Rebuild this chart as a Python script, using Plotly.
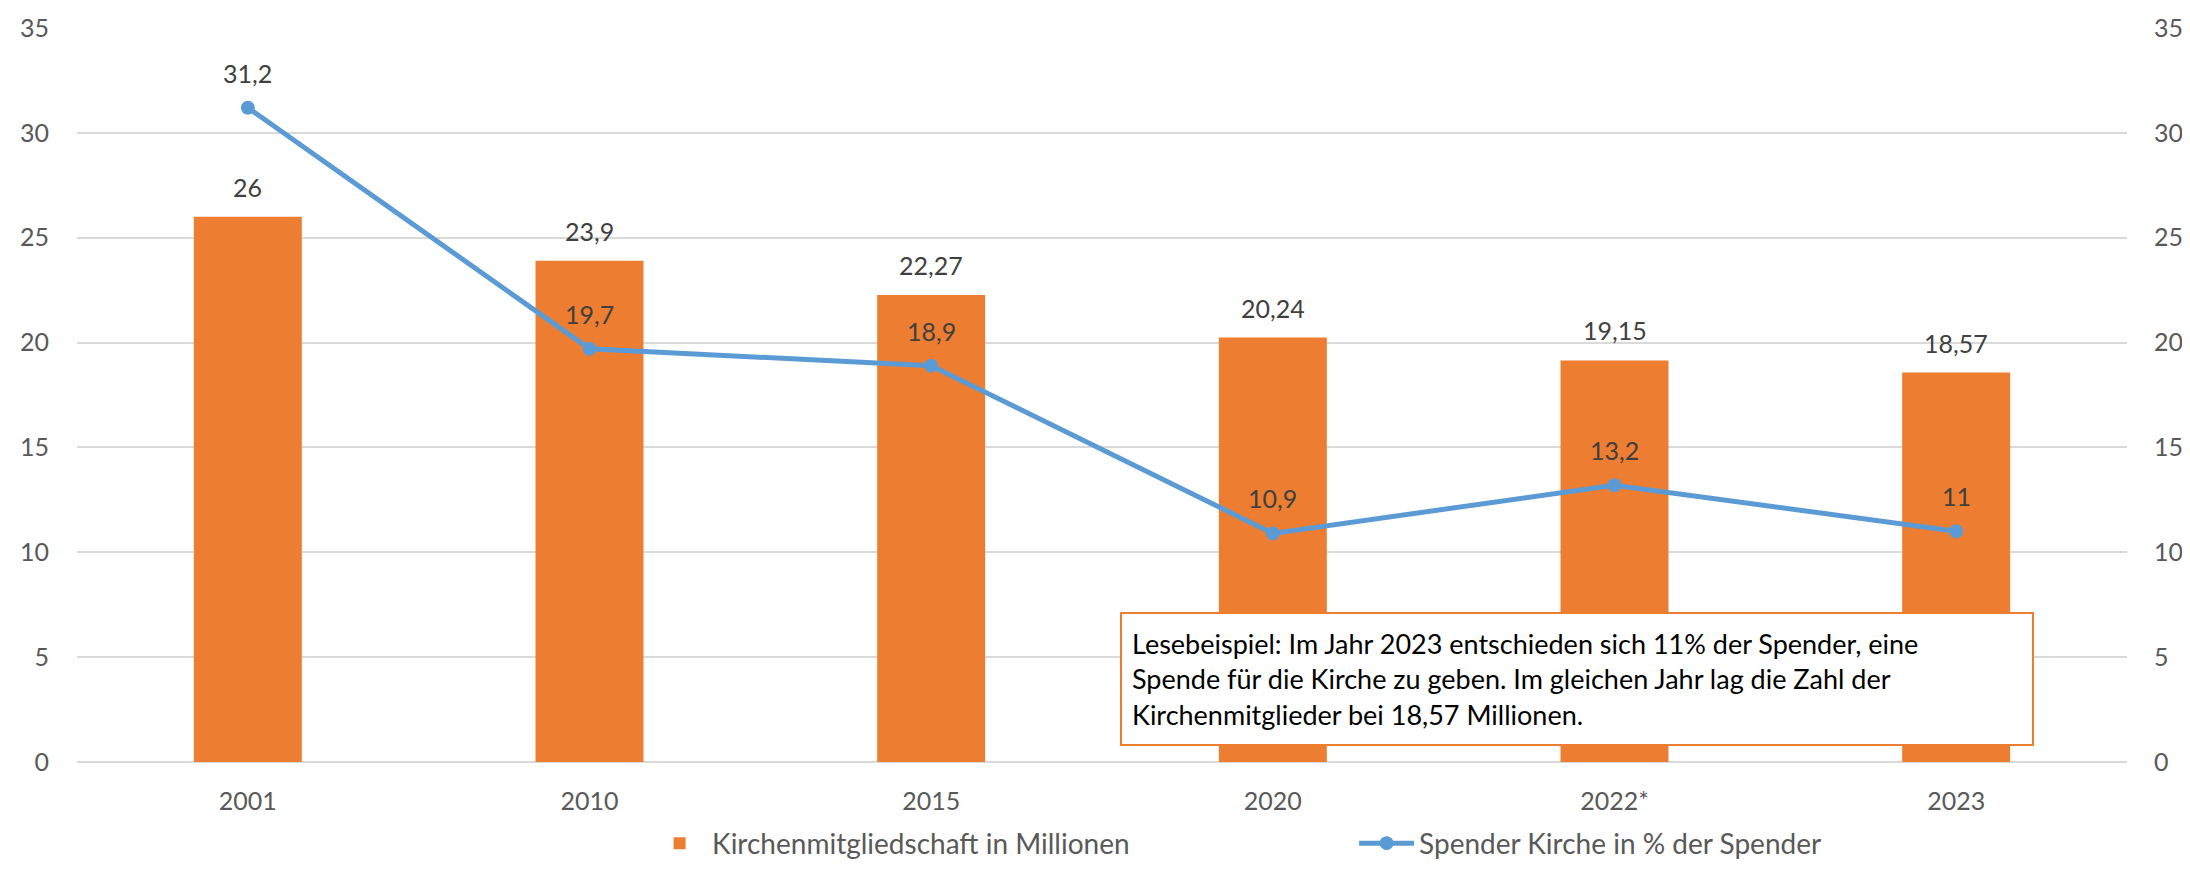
import plotly.graph_objects as go

categories = ["2001", "2010", "2015", "2020", "2022*", "2023"]
members_mio = [26, 23.9, 22.27, 20.24, 19.15, 18.57]
donors_pct = [31.2, 19.7, 18.9, 10.9, 13.2, 11]
y_ticks = [0, 5, 10, 15, 20, 25, 30, 35]

bar_name = "Kirchenmitgliedschaft in Millionen"
line_name = "Spender Kirche in % der Spender"
note_text = ("Lesebeispiel: Im Jahr 2023 entschieden sich 11% der Spender, eine<br>"
             "Spende für die Kirche zu geben. Im gleichen Jahr lag die Zahl der<br>"
             "Kirchenmitglieder bei 18,57 Millionen.")

ORANGE = "#ED7D31"
BLUE = "#5B9BD5"
FONT = "Lato"
FS = 25


def de(v):
    return f"{v:g}".replace(".", ",")


fig = go.Figure()
fig.add_trace(go.Bar(x=categories, y=members_mio, name=bar_name,
                     marker=dict(color=ORANGE, line=dict(width=0)),
                     yaxis="y"))
fig.add_trace(go.Scatter(x=categories, y=donors_pct, name=line_name,
                         mode="lines+markers",
                         line=dict(color=BLUE, width=5),
                         marker=dict(color=BLUE, size=14),
                         yaxis="y2"))

annotations = []
# category axes: annotation x given as category index
for i, v in enumerate(members_mio):
    annotations.append(dict(x=i, y=v, xref="x", yref="y", text=de(v),
                            showarrow=False, yshift=30,
                            font=dict(family=FONT, size=FS, color="#404040")))
for i, v in enumerate(donors_pct):
    annotations.append(dict(x=i, y=v, xref="x", yref="y2", text=de(v),
                            showarrow=False, yshift=35,
                            font=dict(family=FONT, size=FS, color="#404040")))

annotations.append(dict(xref="paper", yref="paper", x=0.5088, y=0.2044,
                        xanchor="left", yanchor="top", text=note_text,
                        showarrow=False, align="left", valign="middle",
                        width=890, height=110, borderpad=10,
                        bgcolor="white", bordercolor=ORANGE, borderwidth=2,
                        font=dict(family=FONT, size=27, color="#000000")))

# page body has an 8px margin: shrink the figure so it fits the window exactly
fig.update_layout(
    width=2174, height=856,
    margin=dict(l=69, r=55, t=20, b=102, autoexpand=False),
    paper_bgcolor="white", plot_bgcolor="white",
    font=dict(family=FONT, size=FS, color="#595959"),
    bargap=0.684,
    showlegend=True,
    legend=dict(orientation="h", x=0.2781, y=-0.111, xanchor="left", yanchor="middle",
                entrywidth=637, itemwidth=55,
                font=dict(family=FONT, size=28, color="#595959"),
                traceorder="normal"),
    xaxis=dict(type="category", range=[-0.5, len(categories) - 0.5],
               showgrid=False, showline=False, ticks="",
               ticklabelstandoff=22, tickfont=dict(size=FS, color="#595959")),
    yaxis=dict(range=[0, 35], tickvals=y_ticks, showgrid=True, gridcolor="#D9D9D9",
               gridwidth=2, zeroline=True, zerolinecolor="#D9D9D9", zerolinewidth=2,
               showline=False, ticks="", ticklabelstandoff=27,
               tickfont=dict(size=FS, color="#595959")),
    yaxis2=dict(range=[0, 35], tickvals=y_ticks, overlaying="y", side="right",
                showgrid=False, zeroline=False, showline=False, ticks="",
                ticklabelstandoff=26, tickfont=dict(size=FS, color="#595959")),
    annotations=annotations,
)

fig.write_html("out.html")
